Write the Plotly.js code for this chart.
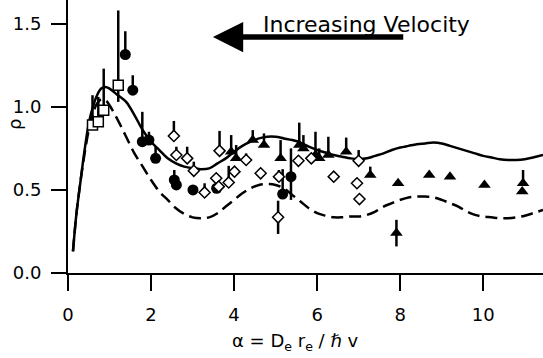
<!DOCTYPE html>
<html>
<head>
<meta charset="utf-8">
<script src="https://cdn.plot.ly/plotly-3.0.1.min.js"></script>
<style>html,body{margin:0;padding:0;background:#fff;}</style>
</head>
<body>
<div id="chart" style="width:543px;height:358px;"></div>
<script>
// Theory curves
var solidX = [0.12,0.2,0.3,0.4,0.5,0.6,0.7,0.8,0.9,1.0,1.2,1.4,1.6,1.8,2.0,2.2,2.4,2.6,2.8,3.0,3.2,3.4,3.6,3.8,4.0,4.2,4.4,4.6,4.8,5.0,5.2,5.4,5.6,5.8,6.0,6.2,6.4,6.6,6.8,7.0,7.2,7.4,7.6,7.8,8.0,8.2,8.4,8.6,8.8,9.0,9.2,9.4,9.6,9.8,10.0,10.2,10.4,10.6,10.8,11.0,11.2,11.44];
var solidY = [0.13,0.35,0.55,0.74,0.90,1.00,1.07,1.11,1.12,1.11,1.07,1.03,0.95,0.86,0.79,0.74,0.69,0.66,0.64,0.63,0.625,0.63,0.66,0.69,0.73,0.765,0.79,0.81,0.82,0.82,0.81,0.80,0.785,0.76,0.74,0.725,0.71,0.70,0.69,0.685,0.69,0.705,0.72,0.74,0.755,0.765,0.775,0.78,0.785,0.78,0.765,0.75,0.735,0.72,0.705,0.695,0.685,0.68,0.68,0.685,0.695,0.71];
var dashX = solidX;
var dashY = [0.13,0.35,0.55,0.72,0.86,0.96,1.02,1.045,1.04,1.01,0.92,0.82,0.72,0.64,0.56,0.49,0.44,0.39,0.355,0.335,0.33,0.335,0.36,0.40,0.44,0.48,0.51,0.53,0.535,0.53,0.51,0.47,0.43,0.39,0.36,0.345,0.335,0.335,0.34,0.34,0.35,0.37,0.40,0.42,0.44,0.455,0.46,0.46,0.455,0.44,0.42,0.40,0.37,0.35,0.34,0.335,0.33,0.33,0.335,0.345,0.36,0.38];

// Open squares
var sqX = [0.59,0.73,0.86,1.21];
var sqY = [0.89,0.91,0.98,1.13];
var sqErrUp = [0.18,0.15,0.25,0.45];
var sqErrDn = [0,0,0,0.10];

// Filled circles
var ciX = [1.38,1.56,1.79,1.95,2.11,2.56,2.61,3.01,3.58,5.17,5.37];
var ciY = [1.315,1.10,0.79,0.80,0.69,0.56,0.53,0.50,0.51,0.475,0.58];
var ciErrUp = [0.14,0.09,0.18,0.05,0.07,0.06,0.02,0.02,0.03,0.15,0.17];
var ciErrDn = [0,0,0,0,0,0,0,0,0,0,0.14];

// Open diamonds
var diX = [2.55,2.61,2.87,3.03,3.29,3.57,3.63,3.65,3.87,4.01,4.29,4.64,5.08,5.06,5.55,5.86,6.40,7.00,6.96,7.02];
var diY = [0.825,0.71,0.69,0.615,0.485,0.57,0.52,0.735,0.545,0.61,0.68,0.60,0.58,0.335,0.675,0.69,0.58,0.675,0.54,0.445];
var diErrUp = [0.09,0.05,0.07,0.055,0.055,0,0,0.12,0.10,0,0.04,0,0.04,0.10,0.03,0,0,0.065,0,0];
var diErrDn = [0,0,0,0,0,0,0,0,0,0,0,0,0,0.10,0,0,0,0,0,0];

// Filled triangles
var trX = [3.93,4.05,4.45,4.72,5.12,5.57,5.67,5.96,6.05,6.27,6.70,7.28,7.95,8.70,9.20,10.03,10.96,10.94,7.91];
var trY = [0.73,0.69,0.80,0.77,0.69,0.77,0.75,0.71,0.69,0.71,0.73,0.59,0.54,0.59,0.58,0.53,0.54,0.49,0.24];
var trErrUp = [0.10,0.08,0.06,0.07,0.11,0.135,0.08,0.14,0.06,0.11,0.085,0.05,0,0,0,0,0.08,0,0.08];
var trErrDn = [0,0,0,0,0,0,0,0,0,0,0,0,0,0,0,0,0,0,0.08];

var xTicks = [0,2,4,6,8,10];
var yTicks = [0,0.5,1.0,1.5];

function errBar(up, dn) {
  return {type:'data', symmetric:false, array:up, arrayminus:dn, color:'black', thickness:2.5, width:0, visible:true};
}

var traces = [
  {x:solidX, y:solidY, mode:'lines', line:{color:'black', width:2.5, shape:'spline', smoothing:1}, hoverinfo:'skip'},
  {x:dashX, y:dashY, mode:'lines', line:{color:'black', width:2.5, dash:'12px,6px', shape:'spline', smoothing:1}, hoverinfo:'skip'},
  {x:ciX, y:ciY, mode:'markers', marker:{symbol:'circle', size:11, color:'black'}, error_y:errBar(ciErrUp, ciErrDn)},
  {x:trX, y:trY, mode:'markers', marker:{symbol:'triangle-up', size:11, color:'black'}, error_y:errBar(trErrUp, trErrDn)},
  {x:diX, y:diY, mode:'markers', marker:{symbol:'diamond', size:8.5, color:'white', line:{color:'black', width:1.5}}, error_y:errBar(diErrUp, diErrDn)},
  {x:sqX, y:sqY, mode:'markers', marker:{symbol:'square', size:10, color:'white', line:{color:'black', width:1.5}}, error_y:errBar(sqErrUp, sqErrDn)}
];

var layout = {
  width:543, height:358,
  margin:{l:68, r:0, t:0, b:85, pad:0},
  paper_bgcolor:'white', plot_bgcolor:'white',
  showlegend:false,
  font:{family:'DejaVu Sans, Arial, sans-serif', color:'black', size:18},
  xaxis:{range:[0,11.44], tickvals:xTicks, ticks:'outside', ticklen:16, tickwidth:2, tickcolor:'black',
         showline:true, linewidth:2, linecolor:'black', showgrid:false, zeroline:false,
         ticklabelstandoff:8, tickfont:{size:18}},
  yaxis:{range:[0,1.643], tickvals:yTicks, tickformat:'.1f', ticks:'outside', ticklen:15, tickwidth:2, tickcolor:'black',
         showline:true, linewidth:2, linecolor:'black', showgrid:false, zeroline:false,
         ticklabelstandoff:6, tickfont:{size:18}},
  annotations:[
    {xref:'x', yref:'y', x:3.49, y:1.42, axref:'x', ayref:'y', ax:8.11, ay:1.42, text:'', showarrow:true,
     arrowhead:2, arrowsize:1.1, arrowwidth:5.5, arrowcolor:'black', standoff:0, startstandoff:0},
    {xref:'x', yref:'y', x:7.19, y:1.498, text:'Increasing Velocity', showarrow:false,
     xanchor:'center', yanchor:'middle', font:{size:22, color:'black'}},
    {xref:'paper', yref:'paper', x:(295-68)/475, y:-(342-273)/273, text:'α = D<sub>e</sub> r<sub>e</sub> / <i>ℏ</i> v',
     showarrow:false, xanchor:'center', yanchor:'middle', font:{size:18, color:'black'}},
    {xref:'paper', yref:'y', x:(14-68)/475, y:0.89, text:'ρ', textangle:-90, showarrow:false,
     xanchor:'center', yanchor:'middle', font:{size:18, color:'black'}}
  ]
};

Plotly.newPlot('chart', traces, layout, {staticPlot:true, displayModeBar:false});
</script>
</body>
</html>
